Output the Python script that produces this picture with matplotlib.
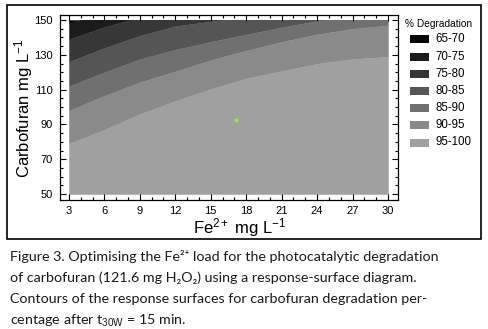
import numpy as np
import matplotlib
matplotlib.use('Agg')
import matplotlib.pyplot as plt
from matplotlib.patches import Rectangle
from matplotlib.ticker import MultipleLocator

plt.rcParams['font.family'] = ['Liberation Sans', 'DejaVu Sans']
plt.rcParams['mathtext.fontset'] = 'custom'
plt.rcParams['mathtext.rm'] = 'Liberation Sans'
plt.rcParams['mathtext.it'] = 'Liberation Sans:italic'

# contour lines: carbofuran (mg/L) where each level is
# crossed, at each Fe2+ value (values above 150 lie outside the plotted area)
fe = [3, 6, 9, 12, 15, 18, 21, 24, 27, 30]
c95 = [79, 87, 96, 103.5, 110.3, 116.5, 120.7, 124.9, 127.6, 129]
c90 = [98, 106.5, 114.3, 120.5, 127, 132.5, 137.5, 141.8, 145, 147]
c85 = [112, 120, 127.5, 133, 137.5, 141.7, 145.8, 149.5, 152.5, 155]
c80 = [126, 134, 141, 146.5, 149.2, 152.5, 155.5, 158, 160, 162]
c75 = [139, 146, 151.6, 156.5, 160.5, 164, 167, 169.5, 171.5, 173]
c70 = [148, 154, 159.5, 164.5, 168.5, 172, 175, 177.5, 179.5, 181]

carb_range = [50, 150]

band_labels = ['65-70', '70-75', '75-80', '80-85', '85-90', '90-95', '95-100']
band_colors = ['#050505', '#1b1b1b', '#373737', '#555555', '#707070', '#8a8a8a', '#a0a0a0']

# optimum point (green marker)
opt_fe = [17.1]
opt_carb = [92.8]

caption_lines = [
    'Figure 3. Optimising the Fe²⁺ load for the photocatalytic degradation',
    'of carbofuran (121.6 mg H₂O₂) using a response-surface diagram.',
    'Contours of the response surfaces for carbofuran degradation per-',
    r'centage after t$_{\mathrm{30W}}$ = 15 min.',
]

fig = plt.figure(figsize=(4.88, 3.29), dpi=100)
W, H = 488, 329
ax = fig.add_axes([59.5 / W, 1 - 200 / H, (398 - 59.5) / W, (200 - 15) / H])

# bands between consecutive contour lines, from the top band (65-70) down
top = [carb_range[1]] * len(fe)
bottom = [carb_range[0]] * len(fe)
edges = [top, c70, c75, c80, c85, c90, c95, bottom]
clip = Rectangle((fe[0], carb_range[0]), fe[-1] - fe[0], carb_range[1] - carb_range[0],
                 transform=ax.transData)
for i, col in enumerate(band_colors):
    band = ax.fill_between(fe, edges[i + 1], edges[i], color=col, lw=0.3, ec=col)
    band.set_clip_path(clip)

ax.plot(opt_fe, opt_carb, 'o', ms=3.5, color='#a6d67a', mec='#8cc060', mew=0.6)

ax.set_xlim(2.2, 30.85)
ax.set_ylim(46.6, 152.9)
ax.set_xticks(np.arange(3, 31, 3))
ax.set_yticks(np.arange(50, 151, 20))
ax.xaxis.set_minor_locator(MultipleLocator(1))
ax.yaxis.set_minor_locator(MultipleLocator(5))
ax.tick_params(which='both', direction='in', top=True, right=True,
               labelsize=8, width=0.8)
ax.tick_params(axis='x', pad=4)
ax.tick_params(axis='y', pad=5)
ax.tick_params(which='major', length=4.5)
ax.tick_params(which='minor', length=2.5)
for s in ax.spines.values():
    s.set_linewidth(0.9)

ax.set_xlabel('Fe$^{2+}$ mg L$^{-1}$', fontsize=12)
ax.set_ylabel('Carbofuran mg L$^{-1}$', fontsize=12)
ax.xaxis.set_label_coords(0.532, -0.088)
ax.yaxis.set_label_coords(-0.072, 0.495)

# legend, laid out in figure pixels
fig.text(405 / W, 1 - 24 / H, '% Degradation', fontsize=7.3, va='center', ha='left')
for i, (lab, col) in enumerate(zip(band_labels, band_colors)):
    yc = 39.3 + 17.2 * i
    fig.add_artist(Rectangle((410 / W, 1 - (yc + 4) / H), 19 / W, 8 / H,
                             transform=fig.transFigure, fc=col, ec='none'))
    fig.text(435 / W, 1 - yc / H, lab, fontsize=8.3, va='center', ha='left')

# frame round the figure
fig.add_artist(Rectangle((7 / W, 1 - 239 / H), (481 - 7) / W, (239 - 5) / H,
                         transform=fig.transFigure, fill=False, lw=1.2, ec='black'))

for i, line in enumerate(caption_lines):
    fig.text(10 / W, 1 - (261 + 21.1 * i) / H, line, family=['Lato', 'DejaVu Sans'],
             fontsize=10.3, va='baseline', ha='left', color='#1a1a1a')

fig.savefig('out.png', dpi=100)
